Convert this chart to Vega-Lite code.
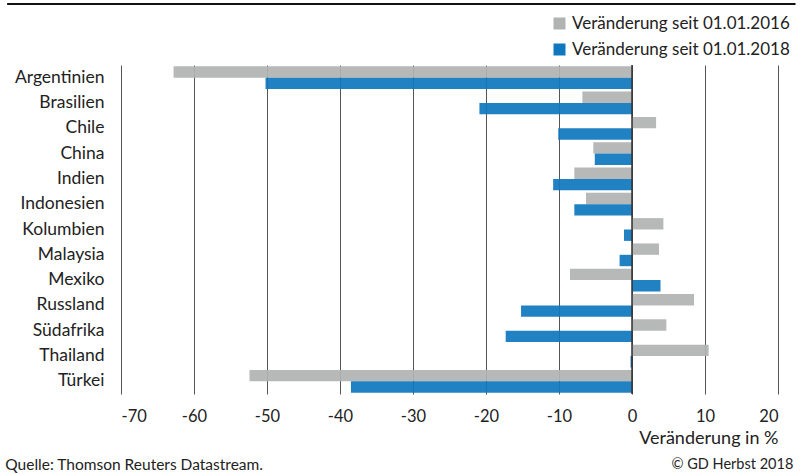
{
  "$schema": "https://vega.github.io/schema/vega-lite/v6.json",
  "width": 657,
  "height": 329,
  "autosize": {"type": "none"},
  "padding": {"left": 121, "top": 65, "right": 26, "bottom": 80},
  "background": "white",
  "config": {"font": "Lato", "view": {"stroke": null}},
  "data": {
    "values": [
      {"Land": "Argentinien", "Serie": "Veränderung seit 01.01.2016", "Wert": -62.8},
      {"Land": "Argentinien", "Serie": "Veränderung seit 01.01.2018", "Wert": -50.2},
      {"Land": "Brasilien", "Serie": "Veränderung seit 01.01.2016", "Wert": -6.8},
      {"Land": "Brasilien", "Serie": "Veränderung seit 01.01.2018", "Wert": -20.9},
      {"Land": "Chile", "Serie": "Veränderung seit 01.01.2016", "Wert": 3.3},
      {"Land": "Chile", "Serie": "Veränderung seit 01.01.2018", "Wert": -10.1},
      {"Land": "China", "Serie": "Veränderung seit 01.01.2016", "Wert": -5.3},
      {"Land": "China", "Serie": "Veränderung seit 01.01.2018", "Wert": -5.1},
      {"Land": "Indien", "Serie": "Veränderung seit 01.01.2016", "Wert": -7.9},
      {"Land": "Indien", "Serie": "Veränderung seit 01.01.2018", "Wert": -10.8},
      {"Land": "Indonesien", "Serie": "Veränderung seit 01.01.2016", "Wert": -6.3},
      {"Land": "Indonesien", "Serie": "Veränderung seit 01.01.2018", "Wert": -7.9},
      {"Land": "Kolumbien", "Serie": "Veränderung seit 01.01.2016", "Wert": 4.3},
      {"Land": "Kolumbien", "Serie": "Veränderung seit 01.01.2018", "Wert": -1.1},
      {"Land": "Malaysia", "Serie": "Veränderung seit 01.01.2016", "Wert": 3.7},
      {"Land": "Malaysia", "Serie": "Veränderung seit 01.01.2018", "Wert": -1.7},
      {"Land": "Mexiko", "Serie": "Veränderung seit 01.01.2016", "Wert": -8.5},
      {"Land": "Mexiko", "Serie": "Veränderung seit 01.01.2018", "Wert": 3.9},
      {"Land": "Russland", "Serie": "Veränderung seit 01.01.2016", "Wert": 8.5},
      {"Land": "Russland", "Serie": "Veränderung seit 01.01.2018", "Wert": -15.2},
      {"Land": "Südafrika", "Serie": "Veränderung seit 01.01.2016", "Wert": 4.7},
      {"Land": "Südafrika", "Serie": "Veränderung seit 01.01.2018", "Wert": -17.3},
      {"Land": "Thailand", "Serie": "Veränderung seit 01.01.2016", "Wert": 10.5},
      {"Land": "Thailand", "Serie": "Veränderung seit 01.01.2018", "Wert": -0.2},
      {"Land": "Türkei", "Serie": "Veränderung seit 01.01.2016", "Wert": -52.4},
      {"Land": "Türkei", "Serie": "Veränderung seit 01.01.2018", "Wert": -38.5}
    ]
  },
  "layer": [
    {
      "mark": {"type": "bar", "opacity": 0.93},
      "encoding": {
        "y": {
          "field": "Land",
          "type": "nominal",
          "sort": null,
          "scale": {"paddingInner": 0.1, "paddingOuter": 0.05},
          "axis": {
            "title": null,
            "ticks": false,
            "domain": false,
            "labelFontSize": 17.5,
            "labelPadding": 17,
            "labelColor": "#222"
          }
        },
        "yOffset": {
          "field": "Serie",
          "sort": ["Veränderung seit 01.01.2016", "Veränderung seit 01.01.2018"]
        },
        "x": {
          "field": "Wert",
          "type": "quantitative",
          "scale": {"domain": [-70, 20], "nice": false},
          "axis": {
            "values": [-70, -60, -50, -40, -30, -20, -10, 0, 10, 20],
            "labelExpr": "replace(datum.label, '−', '-')",
            "grid": true,
            "gridColor": "#555",
            "gridWidth": 1,
            "domain": false,
            "ticks": false,
            "labelFontSize": 16.5,
            "labelPadding": 14,
            "labelColor": "#222",
            "title": "Veränderung in %",
            "titleAnchor": "end",
            "titleAlign": "right",
            "titleFontWeight": "normal",
            "titleFontSize": 18,
            "titleColor": "#222",
            "titlePadding": 5
          }
        },
        "color": {
          "field": "Serie",
          "type": "nominal",
          "scale": {"domain": ["Veränderung seit 01.01.2016", "Veränderung seit 01.01.2018"], "range": ["#b1b3b3", "#0f77be"]},
          "legend": {
            "title": null,
            "orient": "none",
            "legendX": 430,
            "legendY": -50,
            "symbolType": "square",
            "symbolSize": 144,
            "symbolStrokeWidth": 0,
            "symbolOpacity": 1,
            "labelFontSize": 17,
            "labelLimit": 400,
            "labelColor": "#222",
            "labelOffset": 4,
            "rowPadding": 8
          }
        }
      }
    },
    {
      "mark": {"type": "rule", "color": "#333", "strokeWidth": 1.5},
      "data": {"values": [{}]},
      "encoding": {"x": {"datum": 0}}
    },
    {
      "mark": {"type": "rule", "color": "#111", "strokeWidth": 2},
      "data": {"values": [{}]},
      "encoding": {"x": {"datum": -85.6}, "x2": {"datum": 22.4}, "y": {"value": -61}}
    },
    {
      "mark": {"type": "text", "align": "left", "baseline": "middle", "fontSize": 15.5, "color": "#222"},
      "data": {"values": [{}]},
      "encoding": {"x": {"datum": -85.85}, "y": {"value": 400}, "text": {"value": "Quelle: Thomson Reuters Datastream."}}
    },
    {
      "mark": {"type": "text", "align": "right", "baseline": "middle", "fontSize": 14.5, "color": "#222"},
      "data": {"values": [{}]},
      "encoding": {"x": {"datum": 22.1}, "y": {"value": 400}, "text": {"value": "© GD Herbst 2018"}}
    }
  ]
}
